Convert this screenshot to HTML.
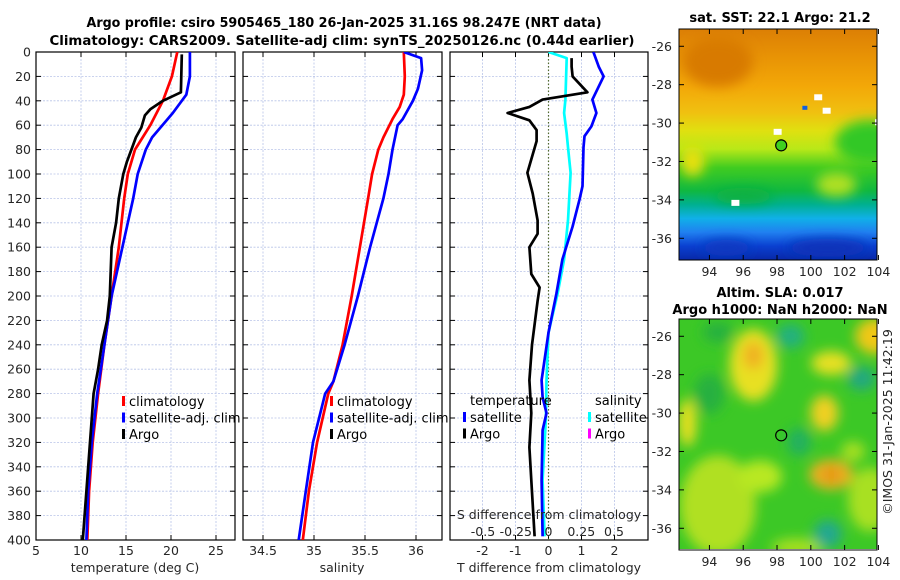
<!DOCTYPE html>
<html><head><meta charset="utf-8"><style>
html,body{margin:0;padding:0;background:#fff;}
svg{display:block;font-family:"DejaVu Sans","Liberation Sans",sans-serif;}
.tk{font-size:12.5px;fill:#262626;}
.ttl{font-size:13px;font-weight:bold;fill:#000;}
.lg{font-size:13px;fill:#000;}
</style></head><body>
<svg id="fig" width="900" height="580" viewBox="0 0 900 580" xmlns="http://www.w3.org/2000/svg">
<defs>
<linearGradient id="sstg" x1="0" y1="0" x2="0" y2="1">
<stop offset="0" stop-color="#dc7f05"/><stop offset="0.12" stop-color="#e89305"/><stop offset="0.25" stop-color="#f3a808"/>
<stop offset="0.36" stop-color="#f0c010"/><stop offset="0.44" stop-color="#e0e010"/><stop offset="0.52" stop-color="#b8e818"/>
<stop offset="0.6" stop-color="#40cc20"/><stop offset="0.7" stop-color="#10b840"/><stop offset="0.76" stop-color="#00b090"/>
<stop offset="0.82" stop-color="#10b0e8"/><stop offset="0.88" stop-color="#2080f0"/><stop offset="0.94" stop-color="#0a40d0"/><stop offset="1" stop-color="#0828a8"/>
</linearGradient>
<filter id="bl" x="-30%" y="-30%" width="160%" height="160%"><feGaussianBlur stdDeviation="6"/></filter>
<clipPath id="c1"><rect x="36" y="52" width="199" height="488"/></clipPath>
<clipPath id="c2"><rect x="243" y="52" width="199" height="488"/></clipPath>
<clipPath id="c3"><rect x="450" y="52" width="198" height="488"/></clipPath>
<clipPath id="cm1"><rect x="679" y="29" width="198" height="231"/></clipPath>
<clipPath id="cm2"><rect x="679" y="319" width="198" height="230"/></clipPath>
</defs>
<text class="ttl" x="344" y="27" text-anchor="middle" textLength="515" lengthAdjust="spacingAndGlyphs">Argo profile: csiro 5905465_180 26-Jan-2025 31.16S 98.247E (NRT data)</text>
<text class="ttl" x="342" y="45" text-anchor="middle" textLength="585" lengthAdjust="spacingAndGlyphs">Climatology: CARS2009. Satellite-adj clim: synTS_20250126.nc (0.44d earlier)</text>
<g id="panels"></g>
<g id="maps"></g>
</svg>
<script>
// ---- profile data (depth in m) ----
const climTDepth = [0,20,40,60,80,100,120,160,200,240,280,320,360,400];
const climT = [20.7,20.1,19.1,17.7,16.0,15.2,14.8,14.2,13.4,12.6,11.9,11.3,10.9,10.7];
const satTDepth = [0,20,35,50,70,80,100,120,160,200,240,280,320,360,400];
const satT = [22.1,22.1,21.7,20.2,17.9,17.2,16.3,15.8,14.6,13.4,12.6,11.8,11.2,10.8,10.6];
const argoTDepth = [2,33,40,47,52,62,70,80,90,100,120,140,160,180,200,220,240,260,280,320,360,400];
const argoT = [21.2,21.1,19.1,17.7,17.1,16.7,16.1,15.6,15.1,14.7,14.2,13.9,13.4,13.3,13.2,12.9,12.3,11.9,11.4,11.0,10.6,10.2];
const climSDepth = [0,20,35,45,55,70,80,100,120,160,200,240,270,280,320,360,400];
const climS = [35.88,35.89,35.88,35.84,35.77,35.68,35.63,35.57,35.53,35.45,35.37,35.28,35.19,35.14,35.03,34.95,34.89];
const satSDepth = [0,5,15,30,40,55,60,80,100,120,160,200,240,270,280,320,360,400];
const satS = [35.88,36.05,36.06,36.02,35.97,35.87,35.82,35.77,35.73,35.68,35.55,35.43,35.30,35.19,35.11,34.99,34.92,34.85];
const dSatSDepth = [0,5,39,50,67,78,99,138,170,198,230,269,300,351,397];
const dSatS = [0.0,0.14,0.13,0.12,0.14,0.15,0.17,0.15,0.12,0.07,0.0,-0.015,-0.02,-0.045,-0.03];
const dSatTDepth = [0,12,20,39,50,61,69,78,110,121,143,170,198,230,269,283,296,310,351,397];
const dSatT = [1.36,1.52,1.67,1.33,1.45,1.30,1.09,1.06,1.03,0.94,0.73,0.42,0.24,0.0,-0.21,-0.18,-0.06,-0.18,-0.21,-0.18];
const dArgoTDepth = [5,12,20,33,39,45,50,56,64,73,84,99,116,138,149,160,182,193,204,240,269,296,324,351,397];
const dArgoT = [0.7,0.7,0.73,1.18,-0.18,-0.58,-1.24,-0.58,-0.36,-0.36,-0.48,-0.64,-0.48,-0.33,-0.33,-0.58,-0.52,-0.27,-0.33,-0.5,-0.58,-0.52,-0.58,-0.52,-0.42];
const depthTicks = [0,20,40,60,80,100,120,140,160,180,200,220,240,260,280,300,320,340,360,380,400];
const tTicks = [5,10,15,20,25];
const sTicks = [34.5,35,35.5,36];
const dtTicks = [-2,-1,0,1,2];
const dtLabels = ["-2","-1","0","1","2"];
const dsTicks = [-0.5,-0.25,0,0.25,0.5];
const dsLabels = ["-0.5","-0.25","0","0.25","0.5"];
const latTicks = [-26,-28,-30,-32,-34,-36];
const lonTicks = [94,96,98,100,102,104];
const argoLon = 98.247, argoLat = -31.16;

const NS="http://www.w3.org/2000/svg";
function mk(tag, at, parent){const e=document.createElementNS(NS,tag);for(const k in at)e.setAttribute(k,at[k]);if(parent)parent.appendChild(e);return e;}
const yD = d => 52 + d*1.22;
const xT = t => 36 + (t-5)*9;
const xS = s => 314 + (s-35)*102;
const xDT = v => 548.5 + v*33;
const xDS = v => 548.5 + v*130;
const P = document.getElementById('panels');

function panelFrame(x0,x1,name,gridXs){
  const g=mk('g',{},P);
  
  
  depthTicks.forEach(d=>{ mk('line',{x1:x0,x2:x1,y1:yD(d),y2:yD(d),stroke:'#b8c4e8','stroke-width':0.8,'stroke-dasharray':'2,1.5'},g);});
  gridXs.forEach(x=>{ mk('line',{x1:x,x2:x,y1:52,y2:540,stroke:'#b8c4e8','stroke-width':0.8,'stroke-dasharray':'2,1.5'},g);});
  depthTicks.forEach(d=>{ mk('line',{x1:x0,x2:x0+5,y1:yD(d),y2:yD(d),stroke:'#000'},g); mk('line',{x1:x1-5,x2:x1,y1:yD(d),y2:yD(d),stroke:'#000'},g);});
  gridXs.forEach(x=>{ mk('line',{x1:x,x2:x,y1:540,y2:535,stroke:'#000'},g); mk('line',{x1:x,x2:x,y1:52,y2:57,stroke:'#000'},g);});
  mk('rect',{x:x0,y:52,width:x1-x0,height:488,fill:'none',stroke:'#000','stroke-width':1.2},g);
  return g;
}
function line(g,xs,ys,fx,color,clip,w){
  const pts=xs.map((v,i)=>fx(v).toFixed(1)+','+yD(ys[i]).toFixed(1)).join(' ');
  return mk('polyline',{points:pts,fill:'none',stroke:color,'stroke-width':w||2.7,'stroke-linejoin':'round','clip-path':'url(#'+clip+')'},g);
}
function txt(g,x,y,s,cls,anchor){const t=mk('text',{x:x,y:y,class:cls,'text-anchor':anchor||'start'},g);t.textContent=s;return t;}

const dl=mk('g',{},P);


depthTicks.forEach(d=>{ txt(dl,31,yD(d)+4.5,String(d),'tk','end'); });

const g1=panelFrame(36,235,'temperature-panel',tTicks.map(xT));
tTicks.forEach(t=>{txt(g1,xT(t),555,String(t),'tk','middle');});
const at1=txt(g1,135,572,'temperature (deg C)','tk','middle');


let l;
l=line(g1,climT,climTDepth,xT,'#ff0000','c1');


l=line(g1,satT,satTDepth,xT,'#0000ff','c1');


l=line(g1,argoT,argoTDepth,xT,'#000000','c1');



function legend(g,x,y,items,name){
  const lg=mk('g',{},g);
  
  
  items.forEach((it,i)=>{ mk('rect',{x:x,y:y+i*16.5-10,width:3,height:10,fill:it[1]},lg); txt(lg,x+7,y+i*16.5,it[0],'lg'); });
}
legend(g1,122,406,[['climatology','#ff0000'],['satellite-adj. clim','#0000ff'],['Argo','#000']],'temperature-legend');

const g2=panelFrame(243,442,'salinity-panel',sTicks.map(xS));
sTicks.forEach(s=>{txt(g2,xS(s),555,String(s),'tk','middle');});
const at2=txt(g2,342,572,'salinity','tk','middle');


l=line(g2,climS,climSDepth,xS,'#ff0000','c2');


l=line(g2,satS,satSDepth,xS,'#0000ff','c2');


legend(g2,330,406,[['climatology','#ff0000'],['satellite-adj. clim','#0000ff'],['Argo','#000']],'salinity-legend');

const g3=panelFrame(450,648,'difference-panel',dtTicks.map(xDT));
mk('line',{x1:xDT(0),x2:xDT(0),y1:52,y2:540,stroke:'#556b2f','stroke-width':1.2,'stroke-dasharray':'1.5,2'},g3);
dtTicks.forEach((t,i)=>{txt(g3,xDT(t),555,dtLabels[i],'tk','middle');});
const at3=txt(g3,549,572,'T difference from climatology','tk','middle');


l=line(g3,dSatS,dSatSDepth,xDS,'#00ffff','c3');


l=line(g3,dSatT,dSatTDepth,xDT,'#0000ff','c3');


l=line(g3,dArgoT,dArgoTDepth,xDT,'#000000','c3');


const st=txt(g3,549,519,'S difference from climatology','tk','middle');


dsTicks.forEach((s,i)=>{txt(g3,xDS(s)*0.5+(548.5+s*132)*0.5,536,dsLabels[i],'tk','middle');});
txt(g3,470,405,'temperature','lg');
txt(g3,595,405,'salinity','lg');
legend(g3,463,422,[['satellite','#0000ff'],['Argo','#000']],'temperature-difference-legend');
legend(g3,588,422,[['satellite','#00ffff'],['Argo','#ff00ff']],'salinity-difference-legend');

// ---- maps ----
const M=document.getElementById('maps');
const mx = lon => 679 + (lon-92.2)*16.9;
const my1 = lat => 29 + (-25.1-lat)*19.2;
const my2 = lat => 319 + (-25.1-lat)*19.2;
function mapAxes(g,my,top){
  latTicks.forEach(la=>{ txt(g,672,my(la)+4.5,String(la),'tk','end'); mk('line',{x1:679,x2:684,y1:my(la),y2:my(la),stroke:'#000'},g); mk('line',{x1:872,x2:877,y1:my(la),y2:my(la),stroke:'#000'},g);});
  lonTicks.forEach(lo=>{ txt(g,mx(lo),top+231+16,String(lo),'tk','middle'); mk('line',{x1:mx(lo),x2:mx(lo),y1:top+231,y2:top+226,stroke:'#000'},g); mk('line',{x1:mx(lo),x2:mx(lo),y1:top,y2:top+5,stroke:'#000'},g);});
  mk('rect',{x:679,y:top,width:198,height:231,fill:'none',stroke:'#000','stroke-width':1},g);
}
const m1=mk('g',{},M);


txt(m1,780,22,'sat. SST: 22.1 Argo: 21.2','ttl','middle');
const b1=mk('g',{'clip-path':'url(#cm1)'},m1);
mk('rect',{x:679,y:29,width:198,height:231,fill:'url(#sstg)'},b1);
const sb=mk('g',{filter:'url(#bl)'},b1);
mk('ellipse',{cx:mx(103.5),cy:my1(-31),rx:35,ry:22,fill:'#30c828'},sb);
mk('ellipse',{cx:mx(101.5),cy:my1(-33.2),rx:20,ry:12,fill:'#b0e020'},sb);
mk('ellipse',{cx:mx(94.5),cy:my1(-26.8),rx:35,ry:25,fill:'#d87a05'},sb);
mk('ellipse',{cx:mx(93),cy:my1(-32),rx:12,ry:15,fill:'#e8e010'},sb);
mk('ellipse',{cx:mx(96),cy:my1(-33.8),rx:30,ry:8,fill:'#10b040'},sb);
mk('ellipse',{cx:mx(101),cy:my1(-36.5),rx:40,ry:9,fill:'#0830b8'},sb);
mk('ellipse',{cx:mx(95),cy:my1(-36.5),rx:25,ry:8,fill:'#0838c0'},sb);
[[95.3,-34],[100.7,-29.2],[97.8,-30.3],[103.8,-29.8],[100.2,-28.5]].forEach(p=>{mk('rect',{x:mx(p[0]),y:my1(p[1]),width:8,height:6,fill:'#fff'},b1);});
mk('rect',{x:mx(99.5),y:my1(-29.1),width:5,height:4,fill:'#1060e0'},b1);
mapAxes(m1,my1,29);
const c1=mk('circle',{cx:mx(argoLon),cy:my1(argoLat),r:5.5,fill:'#40d020',stroke:'#000','stroke-width':1.2},m1);



const m2=mk('g',{},M);


txt(m2,780,297,'Altim. SLA: 0.017','ttl','middle');
txt(m2,780,314,'Argo h1000: NaN h2000: NaN','ttl','middle');
const b2=mk('g',{'clip-path':'url(#cm2)'},m2);
mk('rect',{x:679,y:319,width:198,height:231,fill:'#3cc826'},b2);
const lb=mk('g',{filter:'url(#bl)'},b2);
[[96.6,-27.5,24,36,'#e8e020'],[96.6,-27,10,14,'#f0b020'],[101.2,-27.4,20,12,'#e8e020'],[103.8,-26,20,18,'#f0c818'],
 [100.8,-30,14,18,'#f0d020'],[101.2,-33.2,22,15,'#f0b020'],[101.2,-33.2,9,7,'#e09010'],
 [94.5,-34.8,38,50,'#b0e020'],[97,-33.3,22,16,'#b8e820'],[103.5,-34.5,22,32,'#a8e020'],[92.7,-30.5,9,24,'#e8e020'],
 [99.2,-37,26,9,'#a8e020'],[102.5,-32,12,10,'#a8e020']].forEach(e=>{mk('ellipse',{cx:mx(e[0]),cy:my2(e[1]),rx:e[2],ry:e[3],fill:e[4]},lb);});
[[98.8,-26,14,12,'#20b080'],[103,-28.2,14,12,'#20a880'],[99.3,-31.5,12,14,'#20b060'],[101,-36.3,14,14,'#20a890'],[94,-29,15,20,'#28b040'],[94.5,-25.8,15,10,'#28b040']].forEach(e=>{mk('ellipse',{cx:mx(e[0]),cy:my2(e[1]),rx:e[2],ry:e[3],fill:e[4]},lb);});
mapAxes(m2,my2,319);
const c2=mk('circle',{cx:mx(argoLon),cy:my2(argoLat),r:5.5,fill:'none',stroke:'#000','stroke-width':1.2},m2);


const cp=mk('text',{x:0,y:0,class:'tk',transform:'translate(892,422) rotate(-90)','text-anchor':'middle'},M);
cp.textContent='©IMOS 31-Jan-2025 11:42:19';


</script>
</body></html>
